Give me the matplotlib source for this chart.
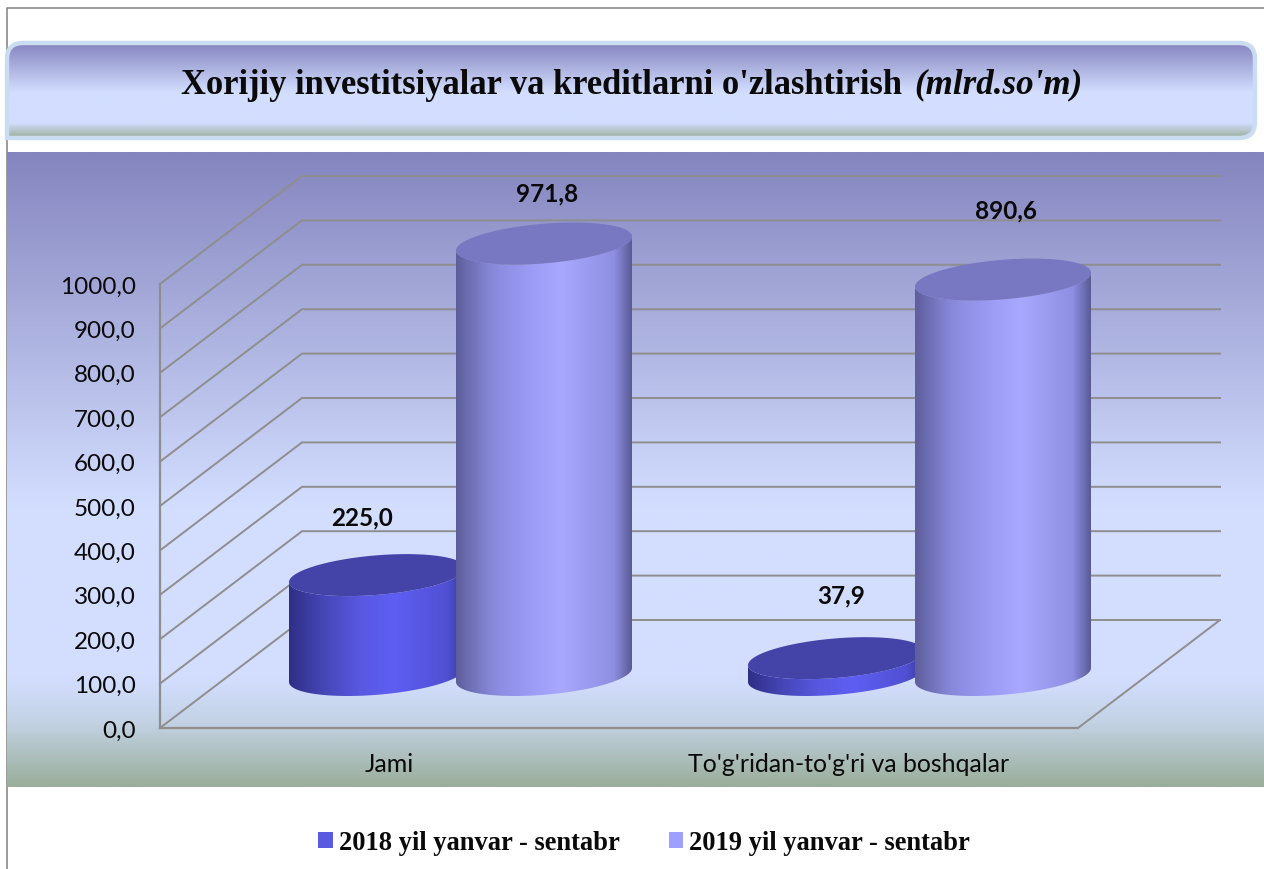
import numpy as np
import matplotlib
matplotlib.use("Agg")
import matplotlib.pyplot as plt
from matplotlib.colors import LinearSegmentedColormap
from matplotlib.patches import PathPatch, Rectangle
from matplotlib.path import Path

CATEGORIES = ["Jami", "To'g'ridan-to'g'ri va boshqalar"]
SERIES_NAMES = ["2018 yil yanvar - sentabr", "2019 yil yanvar - sentabr"]
VALUES_2018 = [225.0, 37.9]
VALUES_2019 = [971.8, 890.6]
AXIS_TICKS = [0, 100, 200, 300, 400, 500, 600, 700, 800, 900, 1000]

WIDTH, HEIGHT = 1264, 870
PX_PER_UNIT = 0.444
LEFT, FRONT_RIGHT, RIGHT = 160, 1078, 1220
BOTTOM, TOP = 729, 177
DEPTH_X = RIGHT - FRONT_RIGHT
DEPTH_Y = 108
CYL_W = 88
CYL_K = 19.8
CYL_TILT = 7
GROUP_STEP = (FRONT_RIGHT - LEFT) / len(CATEGORIES)
GRID_COLOR = "#8e8e8e"

SIDE_2018 = ["#2f2f86", "#4646b8", "#5858e0", "#5e5ef4", "#5050d2", "#3a3a9c"]
SIDE_2019 = ["#5e5e9c", "#8888da", "#9a9af4", "#a8a8ff", "#8e8ee2", "#5a5a96"]
SIDE_STOPS = [0, 0.2, 0.4, 0.6, 0.9, 1]
TOP_COLORS = ["#4343a8", "#7777c2"]
LEGEND_COLORS = ["#5a5ae0", "#9f9fff"]
# offset of each value label from the top of its cylinder, pixels
LABEL_OFFSETS = [[(-15, 58), (3, 51)], [(5, 63), (3, 70)]]


def gradient(ax, colors, stops, extent, clip=None, zorder=1, horizontal=False):
    cmap = LinearSegmentedColormap.from_list("g", list(zip(stops, colors)))
    ramp = np.linspace(0, 1, 512)
    ramp = ramp.reshape(1, -1) if horizontal else ramp.reshape(-1, 1)
    im = ax.imshow(ramp, cmap=cmap, extent=extent, aspect="auto",
                   interpolation="bilinear", zorder=zorder, origin="upper")
    if clip is not None:
        im.set_clip_path(clip, ax.transData)
    return im


def cylinder(ax, cx, value, side_colors, top_color, zorder):
    base = (DEPTH_Y / 2 - 1) / PX_PER_UNIT
    top = base + value
    w = CYL_W
    k = CYL_K / PX_PER_UNIT
    tilt = CYL_TILT / PX_PER_UNIT

    t = np.linspace(np.pi, 2 * np.pi, 80)
    xs = cx + w * np.cos(t)
    low = base + tilt * np.cos(t) + k * np.sin(t)
    up = top + tilt * np.cos(t) + k * np.sin(t)
    verts = np.vstack([np.column_stack([xs, low]), np.column_stack([xs, up])[::-1]])
    side = Path(np.vstack([verts, verts[0]]), closed=True)
    gradient(ax, side_colors, SIDE_STOPS,
             (cx - w, cx + w, base - 60, top + 60), clip=side, zorder=zorder,
             horizontal=True)

    t = np.linspace(0, 2 * np.pi, 160)
    ring = np.column_stack([cx + w * np.cos(t), top + tilt * np.cos(t) + k * np.sin(t)])
    ax.add_patch(PathPatch(Path(ring, closed=True), fc=top_color, ec="none",
                           zorder=zorder + 0.5))


def draw_chrome(fig):
    bg = fig.add_axes([0, 0, 1, 1])
    bg.axis("off")

    # outer frame
    bg.plot([7, 7, WIDTH], [HEIGHT, 9, 9], color="#8a8a8a", lw=1.2, zorder=1)

    # plot area background
    gradient(bg, ["#8585bf", "#d3deff", "#d3deff", "#c3d2e4", "#9aae9a"],
             [0, 0.56, 0.83, 0.9, 1], (7, WIDTH, 788, 153), zorder=2)

    # title band with rounded corners
    x0, x1, y0, y1, r = 7, 1255, 44, 139, 16
    c = Path.CURVE3
    l = Path.LINETO
    verts = [(x0, y1), (x0, y0 + r), (x0, y0), (x0 + r, y0), (x1 - r, y0), (x1, y0),
             (x1, y0 + r), (x1, y1 - r), (x1, y1), (x1 - r, y1), (x0, y1)]
    codes = [Path.MOVETO, l, c, c, l, c, c, l, c, c, Path.CLOSEPOLY]
    band = Path(verts, codes)
    gradient(bg, ["#8585bf", "#d3deff", "#d3deff", "#9aae9a"], [0, 0.52, 0.84, 1],
             (x0, x1, y1, y0), clip=band, zorder=3)
    bg.add_patch(PathPatch(band, fc="none", ec="#c9dcf2", lw=3.2, zorder=4))

    bg.set_xlim(0, WIDTH)
    bg.set_ylim(HEIGHT, 0)

    serif = "Liberation Serif"
    bg.text(181, 85, "Xorijiy investitsiyalar va kreditlarni o'zlashtirish",
            family=serif, weight="bold", fontsize=24.85, va="center", ha="left",
            color="#0a0a0a", zorder=5)
    bg.text(914, 85, "(mlrd.so'm)", family=serif, weight="bold", style="italic",
            fontsize=25.2, va="center", ha="left", color="#0a0a0a", zorder=5)


def draw_chart(fig):
    ax = fig.add_axes([LEFT / WIDTH, (HEIGHT - BOTTOM) / HEIGHT,
                       (RIGHT - LEFT) / WIDTH, (BOTTOM - TOP) / HEIGHT])
    ax.patch.set_visible(False)
    y_top = (BOTTOM - TOP) / PX_PER_UNIT
    depth = DEPTH_Y / PX_PER_UNIT

    for v in AXIS_TICKS:
        ax.plot([LEFT, LEFT + DEPTH_X, RIGHT], [v, v + depth, v + depth],
                color=GRID_COLOR, lw=1.4, zorder=1, clip_on=False,
                solid_joinstyle="miter")
    ax.plot([FRONT_RIGHT, RIGHT], [0, depth], color=GRID_COLOR, lw=1.4, zorder=1)

    centers = [LEFT + GROUP_STEP * (i + 0.5) for i in range(len(CATEGORIES))]
    for i, center in enumerate(centers):
        cx = center + DEPTH_X / 2
        bars = [(cx - 83.5, VALUES_2018[i], SIDE_2018, TOP_COLORS[0]),
                (cx + 83.5, VALUES_2019[i], SIDE_2019, TOP_COLORS[1])]
        for j, (bx, value, side, top) in enumerate(bars):
            cylinder(ax, bx, value, side, top, zorder=2 + j)
            ax.annotate(f"{value:.1f}".replace(".", ","),
                        xy=(bx, value + (DEPTH_Y / 2 - 1) / PX_PER_UNIT),
                        xytext=LABEL_OFFSETS[i][j], textcoords="offset pixels",
                        ha="center", va="center", family="Lato", weight="bold",
                        fontsize=17.5, color="#0a0a0a", zorder=6)

    ax.set_xlim(LEFT, RIGHT)
    ax.set_ylim(0, y_top)

    ax.set_yticks(AXIS_TICKS)
    ax.set_yticklabels([f"{v:.1f}".replace(".", ",") for v in AXIS_TICKS],
                       family="Lato", fontsize=17.5, color="#0a0a0a")
    ax.set_xticks(centers)
    ax.set_xticklabels(CATEGORIES, family="Lato", fontsize=17.9, color="#0a0a0a")
    ax.tick_params(axis="y", length=0, pad=17.5)
    ax.tick_params(axis="x", length=0, pad=17.5)

    for name in ["top", "right"]:
        ax.spines[name].set_visible(False)
    ax.spines["left"].set_bounds(0, 1000)
    ax.spines["bottom"].set_bounds(LEFT, FRONT_RIGHT)
    for name in ["left", "bottom"]:
        ax.spines[name].set_color(GRID_COLOR)
        ax.spines[name].set_linewidth(1.6)


def draw_legend(fig):
    handles = [Rectangle((0, 0), 1, 1, fc=c, ec="none") for c in LEGEND_COLORS]
    fig.legend(handles, SERIES_NAMES, loc="center", ncol=2, frameon=False,
               bbox_to_anchor=(644 / WIDTH, 1 - 844 / HEIGHT),
               prop={"family": "Liberation Serif", "weight": "bold", "size": 19.1},
               handlelength=0.55, handleheight=0.55, handletextpad=0.22,
               columnspacing=1.85, labelcolor="#0a0a0a")


def main():
    fig = plt.figure(figsize=(WIDTH / 100, HEIGHT / 100), dpi=100, facecolor="white")
    draw_chrome(fig)
    draw_chart(fig)
    draw_legend(fig)
    fig.savefig("out.png", dpi=100, facecolor="white")


if __name__ == "__main__":
    main()
